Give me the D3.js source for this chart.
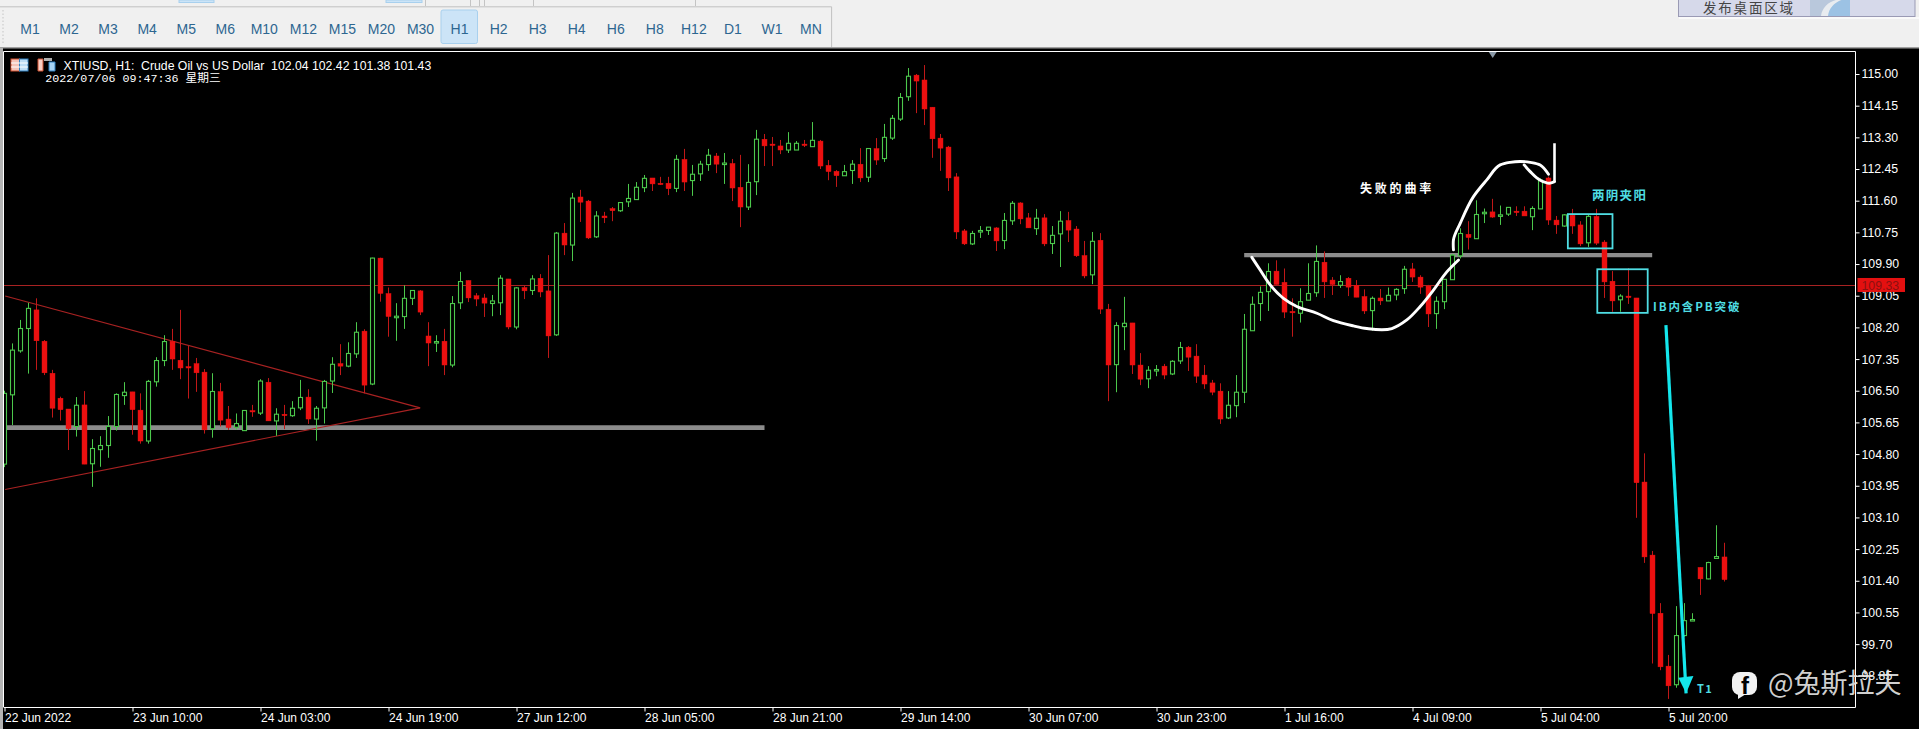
<!DOCTYPE html>
<html><head><meta charset="utf-8">
<script src="https://cdn.jsdelivr.net/npm/d3@7"></script>
<style>html,body{margin:0;padding:0;background:#000;overflow:hidden}svg{display:block}text{white-space:pre}</style>
</head><body>
<svg id="c" width="1919" height="729"></svg>
<script>
// ---- chart values -------------------------------------------------------
const opens=[104.53,106.39,107.57,108.17,108.67,107.83,106.97,106.30,106.01,105.54,106.12,104.54,104.92,105.03,105.54,106.37,106.47,105.98,105.15,106.74,107.31,107.83,107.32,107.15,107.23,107.00,105.48,106.48,105.74,105.52,105.43,105.97,105.90,106.73,105.69,105.87,105.83,106.04,106.33,105.74,106.04,106.76,107.23,107.16,107.49,108.10,106.68,110.06,109.11,108.46,108.49,108.98,
109.18,107.97,107.79,107.83,107.19,108.86,109.46,109.05,108.99,108.84,108.86,109.50,108.21,109.27,109.19,109.52,109.18,108.00,110.73,110.41,111.70,111.59,110.63,111.19,111.39,111.33,111.57,111.63,111.95,112.21,112.07,112.07,111.93,112.71,112.14,112.32,112.57,112.80,112.59,112.60,111.96,111.43,112.11,113.25,113.12,113.07,112.96,112.96,113.12,113.05,
113.20,112.55,112.39,112.27,112.41,112.58,112.23,113.00,112.73,113.28,113.79,114.39,114.97,114.84,114.11,113.28,113.04,112.24,110.79,110.44,110.77,110.80,110.87,110.53,111.06,111.54,111.14,110.85,111.14,110.45,110.71,111.07,110.84,110.13,109.61,110.54,108.69,107.20,108.22,108.32,107.19,106.82,107.05,107.16,106.95,107.30,107.67,107.43,106.92,106.71,
106.49,105.77,106.10,106.46,108.11,108.84,109.16,109.71,109.41,108.63,108.58,108.93,109.13,109.95,109.47,109.33,109.52,109.33,109.03,108.65,108.99,108.91,109.07,109.24,109.77,109.55,109.31,108.57,108.89,109.48,110.12,110.70,110.58,111.26,111.30,111.18,111.24,111.32,111.32,111.17,111.38,112.21,111.08,110.92,111.21,110.95,110.47,111.18,110.49,109.44,108.94,109.04,108.99,104.05,102.09,100.53,99.11,98.61,99.93,100.34,101.76,101.45,102.00,102.04];
const highs=[106.50,107.77,108.40,108.86,108.98,107.86,107.06,106.34,106.01,106.33,106.49,105.20,105.28,105.82,106.43,106.73,106.47,106.43,106.79,107.40,107.99,108.16,108.67,107.70,107.38,107.08,106.97,106.71,106.09,105.89,105.98,106.12,106.81,106.84,106.03,106.12,106.22,106.79,106.54,106.09,106.79,107.40,107.75,107.80,108.34,108.15,110.07,110.07,109.27,108.85,109.33,109.19,
109.20,108.34,107.99,108.16,109.04,109.69,109.46,109.12,109.10,109.07,109.60,109.50,109.28,109.31,109.60,109.63,110.14,110.76,111.00,111.81,111.89,111.62,111.32,111.30,111.43,111.55,112.05,112.10,112.29,112.21,112.24,112.24,112.83,112.99,112.56,112.67,112.99,112.88,112.88,112.72,112.83,112.58,113.50,113.39,113.31,113.23,113.44,113.20,113.23,113.71,
113.23,112.69,112.42,112.56,112.69,113.01,113.00,113.28,113.66,113.90,114.49,115.16,115.00,115.24,114.11,113.39,113.07,112.34,110.84,110.79,110.92,110.89,110.89,111.27,111.59,111.56,111.27,111.38,111.24,110.92,111.32,111.30,110.92,110.52,110.76,110.73,108.83,108.34,109.02,108.32,107.51,107.16,107.19,107.22,107.32,107.81,107.70,107.75,107.19,106.79,
106.70,106.49,106.92,108.56,109.03,109.30,109.92,110.00,109.78,108.98,109.25,109.92,110.40,110.24,109.55,109.60,109.55,109.47,109.22,109.03,109.23,109.27,109.25,109.85,109.93,109.60,109.34,109.03,109.49,110.17,110.86,111.05,111.61,111.39,111.65,111.47,111.42,111.45,111.45,111.45,112.20,112.25,111.19,111.24,111.38,111.05,111.22,111.38,110.54,109.71,109.09,109.79,108.99,104.82,102.20,100.80,99.41,100.72,100.80,100.53,101.76,101.91,102.89,102.42];
const lows=[104.45,105.58,107.52,106.96,107.06,106.92,105.78,105.70,104.91,105.27,104.53,103.92,104.46,104.70,105.43,106.12,105.32,105.08,105.08,106.61,107.16,107.06,106.81,106.29,106.47,105.35,105.24,105.54,105.45,105.45,105.43,105.80,105.85,105.69,105.29,105.47,105.80,105.98,105.61,105.16,105.62,106.44,106.92,107.13,107.38,106.43,106.65,108.89,107.95,107.84,108.16,108.80,
108.53,107.16,107.54,106.92,107.13,108.69,108.88,108.77,108.48,108.50,108.53,108.15,108.15,108.96,109.07,109.01,107.38,107.97,110.14,109.98,111.03,110.57,110.60,111.00,111.05,111.30,111.43,111.63,111.83,111.86,112.02,111.75,111.83,111.86,111.73,112.13,112.40,112.34,112.05,111.59,110.89,111.35,111.75,112.53,112.53,112.85,112.88,112.96,113.04,113.05,
112.45,112.15,111.97,112.27,112.05,112.10,112.10,112.56,112.64,113.23,113.74,114.28,113.95,113.63,112.75,112.40,111.86,110.57,110.41,110.41,110.60,110.68,110.25,110.30,110.95,110.97,110.87,110.68,110.38,110.17,109.82,110.49,110.09,109.52,109.36,108.56,106.22,106.46,107.59,106.95,106.65,106.57,106.89,106.81,106.92,107.22,107.03,106.71,106.55,106.38,
105.61,105.74,105.79,106.17,108.11,108.37,108.64,109.35,108.45,107.95,108.33,108.93,109.02,108.99,109.07,109.26,109.04,109.01,108.56,108.11,108.80,108.91,108.93,109.10,109.42,109.10,108.21,108.16,108.69,109.48,110.05,110.29,110.58,111.00,111.14,110.95,111.19,111.19,111.19,110.81,111.38,110.95,110.71,110.90,110.71,110.38,110.36,110.41,108.99,108.62,108.62,108.83,103.09,101.88,99.18,99.00,98.23,98.53,99.90,100.33,101.02,101.44,102.00,101.38];
const closes=[106.43,107.59,108.17,108.71,107.84,106.98,106.03,105.99,105.48,106.11,104.53,104.95,105.03,105.54,106.40,106.46,105.99,105.15,106.75,107.31,107.82,107.35,107.11,107.12,106.98,105.45,106.48,105.71,105.51,105.62,105.97,105.93,106.76,105.69,105.87,105.83,106.03,106.32,105.74,106.03,106.75,107.21,107.16,107.50,108.07,106.65,110.06,109.11,108.49,108.50,108.98,109.19,
108.61,107.78,107.82,107.19,108.84,109.43,108.99,108.96,108.85,108.91,109.52,108.21,109.26,109.18,109.50,109.15,107.97,110.73,110.41,111.67,111.56,110.60,111.19,111.14,111.33,111.55,111.66,111.96,112.20,112.05,112.04,111.92,112.71,112.10,112.31,112.58,112.82,112.58,112.61,111.94,111.43,112.09,113.25,113.07,113.08,112.96,113.14,113.14,113.08,113.22,
112.53,112.38,112.27,112.38,112.58,112.21,113.00,112.69,113.30,113.81,114.37,114.94,114.81,114.06,113.26,113.01,112.21,110.76,110.44,110.72,110.80,110.89,110.52,111.07,111.53,111.11,110.87,111.13,110.44,110.67,111.05,110.81,110.12,109.58,110.51,108.69,107.19,108.25,108.31,107.19,106.81,107.05,107.07,106.92,107.29,107.66,107.40,106.89,106.68,106.46,
105.74,106.11,106.46,108.15,108.82,109.14,109.70,109.35,108.61,108.59,108.89,109.11,109.97,109.42,109.35,109.43,109.28,109.01,108.64,108.98,108.91,109.06,109.22,109.76,109.55,109.28,108.56,108.90,109.49,110.14,110.72,110.61,111.23,111.29,111.16,111.22,111.42,111.30,111.19,111.39,112.15,111.08,110.95,111.22,110.92,110.44,111.18,110.46,109.42,108.91,109.04,109.00,104.03,102.04,100.52,99.09,98.58,99.93,100.33,100.36,101.45,101.89,102.05,101.43];
const priceTicks=["115.00","114.15","113.30","112.45","111.60","110.75","109.90","109.05","108.20","107.35","106.50","105.65","104.80","103.95","103.10","102.25","101.40","100.55","99.70","98.85"];
const timeLabels=["22 Jun 2022","23 Jun 10:00","24 Jun 03:00","24 Jun 19:00","27 Jun 12:00","28 Jun 05:00","28 Jun 21:00","29 Jun 14:00","30 Jun 07:00","30 Jun 23:00","1 Jul 16:00","4 Jul 09:00","5 Jul 04:00","5 Jul 20:00"];
const timeframes=["M1","M2","M3","M4","M5","M6","M10","M12","M15","M20","M30","H1","H2","H3","H4","H6","H8","H12","D1","W1","MN"];
const lastPrice=109.33;
// drawn objects, as [bar, price]
const trendUpper=[[0.08,109.04],[51.96,106.04]];
const trendLower=[[0.08,103.85],[51.96,106.04]];
const levelLow=[[0.2,105.51],[95,105.51]];
const levelHigh=[[154.96,110.14],[205.96,110.14]];
const curveCup=[[155.92,110.08],[156.96,109.74],[158.21,109.34],[159.87,108.98],[161.54,108.76],[164.05,108.58],[166.12,108.38],[168.62,108.24],[170.29,108.17],[173.42,108.17],[175.29,108.40],[176.96,108.76],[178.62,109.20],[180.29,109.69],[181.75,110.01]];
const curveCap=[[181.12,110.28],[181.12,110.55],[181.96,110.99],[183.62,111.71],[185.29,112.16],[186.96,112.56],[188.21,112.63],[190.71,112.63],[191.96,112.56],[193.0,112.31]];
const curveHook=[[189.96,112.56],[190.71,112.38],[191.96,112.15],[193.21,112.07],[193.75,112.11]];
const hookStem=[[193.75,112.11],[193.75,113.14]];
const boxes=[[195.42,111.24,201,110.32],[199.1,109.76,205.4,108.59]];
const arrowLine=[[207.68,108.26],[210.2,98.38]];

// ---- layout -------------------------------------------------------------
const svg=d3.select("#c");
const X=d3.scaleLinear().domain([0,215]).range([4.5,1724.5]);
const Y=d3.scaleLinear().domain([115,98.85]).range([74,675.8]);
const L=d3.line().x(d=>X(d[0])).y(d=>Y(d[1]));
const C=d3.line().x(d=>X(d[0])).y(d=>Y(d[1])).curve(d3.curveCatmullRom.alpha(1));
const plot={l:4,t:51,r:1855.5,b:707};
const sans='"Liberation Sans",Arial,"Noto Sans CJK SC",sans-serif';
const cjk='"Noto Sans CJK SC",sans-serif';
const cyan="#4fdde3",redLine="#a82222";

// window chrome
svg.append("rect").attr("width",1919).attr("height",729).attr("fill","#000");
svg.append("rect").attr("width",1919).attr("height",48).attr("fill","#f0f0f0");
svg.append("rect").attr("y",47).attr("width",1919).attr("height",1.5).attr("fill","#a0a0a0");
svg.append("rect").attr("y",48).attr("width",3).attr("height",681).attr("fill","#b4b4b4");
svg.append("path").attr("d","M0,6.8H831.6V47").attr("fill","none").attr("stroke","#c0c0c0");
svg.append("path").attr("d","M3,10V45").attr("fill","none").attr("stroke","#c4c4c4").attr("stroke-dasharray","1.5 2");
[[179,35],[386,36]].forEach(a=>svg.append("rect").attr("x",a[0]).attr("y",0).attr("width",a[1]).attr("height",2.5).attr("fill","#cce4f7").attr("stroke","#a8d0ee"));
[425.5,470.5,479.5,484.5,533.5,695.5].forEach(x=>svg.append("line").attr("x1",x).attr("x2",x).attr("y1",0).attr("y2",6).attr("stroke","#c4c4c4"));
svg.append("rect").attr("x",441).attr("y",10).attr("width",36.5).attr("height",33.5).attr("rx",2).attr("fill","#cce4f7").attr("stroke","#a8d0ee");
svg.selectAll("text.tf").data(timeframes).join("text").attr("class","tf")
  .attr("x",(d,i)=>30+39.05*i).attr("y",33.5).attr("text-anchor","middle")
  .attr("font-family",sans).attr("font-size",14).attr("fill","#2d6690").text(d=>d);
svg.append("rect").attr("x",1678.5).attr("y",-1).attr("width",236.5).attr("height",17.5).attr("fill","#d6d9ea").attr("stroke","#9a9ab4");
svg.append("rect").attr("x",1679).attr("y",17).attr("width",240).attr("height",2).attr("fill","#fafafa");
svg.append("text").attr("x",1703).attr("y",13).attr("font-family",cjk).attr("font-size",13.5).attr("letter-spacing",1.8).attr("fill","#444").text("发布桌面区域");
svg.append("rect").attr("x",1810).attr("y",0).attr("width",40).attr("height",16).attr("fill","#b9c8dc");
svg.append("path").attr("d","M1826,16C1826,6 1836,2 1842,0H1850V16Z").attr("fill","#9cc2e4");
svg.append("path").attr("d","M1821,16C1822,8 1828,2 1836,0H1841C1834,3 1829,8 1828,16Z").attr("fill","#e8ecf0");

// plot frame contents, clipped
svg.append("defs").append("clipPath").attr("id","pc").append("rect")
  .attr("x",plot.l).attr("y",plot.t).attr("width",plot.r-plot.l).attr("height",plot.b-plot.t);
const g=svg.append("g").attr("clip-path","url(#pc)");
g.append("path").attr("d",L(levelLow)).attr("stroke","#8c8c8c").attr("stroke-width",4.6).attr("fill","none");
g.append("path").attr("d",L(levelHigh)).attr("stroke","#8c8c8c").attr("stroke-width",4.2).attr("fill","none");
g.append("line").attr("x1",plot.l).attr("x2",plot.r).attr("y1",Math.round(Y(lastPrice))+.5).attr("y2",Math.round(Y(lastPrice))+.5).attr("stroke",redLine);
[trendUpper,trendLower].forEach(t=>g.append("path").attr("d",L(t)).attr("stroke",redLine).attr("stroke-width",1.1).attr("fill","none"));

const bars=d3.range(opens.length).map(i=>({i,o:opens[i],h:highs[i],l:lows[i],c:closes[i]}));
const green="#4cc84c",red="#ec1010",redWick="#c01818";
const cg=g.selectAll("g.bar").data(bars).join("g").attr("class","bar");
cg.append("line").attr("x1",d=>X(d.i)).attr("x2",d=>X(d.i)).attr("y1",d=>Y(d.h)).attr("y2",d=>Y(d.l))
  .attr("stroke",d=>d.c>=d.o?green:redWick);
cg.append("rect").attr("x",d=>X(d.i)-(d.c>=d.o?2:2.5)).attr("width",d=>d.c>=d.o?4:5)
  .attr("y",d=>Y(Math.max(d.o,d.c))).attr("height",d=>Math.max(Math.abs(Y(d.o)-Y(d.c)),1.5))
  .attr("fill",d=>d.c>=d.o?"#000":red).attr("stroke",d=>d.c>=d.o?green:red).attr("stroke-width",d=>d.c>=d.o?1.1:.4);

// hand-drawn annotations
[curveCup,curveCap,curveHook].forEach(c=>g.append("path").attr("d",C(c)).attr("stroke","#fff").attr("stroke-width",2.9).attr("fill","none").attr("stroke-linecap","round").attr("stroke-linejoin","round"));
g.append("path").attr("d",L(hookStem)).attr("stroke","#fff").attr("stroke-width",2.6).attr("fill","none");
g.selectAll("rect.box").data(boxes).join("rect").attr("class","box")
  .attr("x",d=>X(d[0])).attr("y",d=>Y(d[1])).attr("width",d=>X(d[2])-X(d[0])).attr("height",d=>Y(d[3])-Y(d[1]))
  .attr("fill","none").attr("stroke",cyan).attr("stroke-width",1.8);
g.append("path").attr("d",L(arrowLine)).attr("stroke","#14e6ec").attr("stroke-width",3.2).attr("fill","none");
{const t=arrowLine[1],tx=X(t[0]),ty=Y(t[1]);
 g.append("path").attr("d",`M${tx-7.7},${ty-15.6}L${tx+7.3},${ty-17.3}L${tx},${ty}Z`).attr("fill","#14e6ec");}
const note=(x,y,s,f,ls,t)=>g.append("text").attr("x",x).attr("y",y).attr("font-family",cjk).attr("font-weight",700).attr("font-size",s).attr("letter-spacing",ls).attr("fill",f).text(t);
note(1360,193,12,"#fff",2.8,"失败的曲率");
note(1592,200,12.5,cyan,1.3,"两阴夹阳");
note(1653,311,11.5,cyan,1.9,"IB内含PB突破");
note(1697,693,11,cyan,1.4,"T1");

// header
g.append("text").attr("x",63.5).attr("y",70).attr("font-family",sans).attr("font-size",12.25).attr("fill","#fff").text("XTIUSD, H1:  Crude Oil vs US Dollar  102.04 102.42 101.38 101.43");
g.append("text").attr("x",45.3).attr("y",81.5).attr("font-family",'"Liberation Mono","Noto Sans CJK SC",monospace').attr("font-size",11.7).attr("fill","#fff").text("2022/07/06 09:47:36 星期三");
// header icons
g.append("rect").attr("x",11).attr("y",59).attr("width",8.5).attr("height",12).attr("fill","#f4c4b8").attr("stroke","#d05030");
g.append("rect").attr("x",19.5).attr("y",59).attr("width",8.5).attr("height",12).attr("fill","#bcdcf4").attr("stroke","#3080c0");
[63,67].forEach(y=>g.append("line").attr("x1",11).attr("x2",28).attr("y1",y).attr("y2",y).attr("stroke","#fff"));
g.append("path").attr("d","M38,59H43V71H38Z").attr("fill","#f8cfc4").attr("stroke","#d05030");
g.append("path").attr("d","M49,62H55V71H49Z").attr("fill","#a8d4f4").attr("stroke","#3080c0");
g.append("rect").attr("x",44).attr("y",58).attr("width",8).attr("height",3).attr("fill","#b0b0b0");
g.append("path").attr("d","M1488.5,51.5H1497L1492.7,58Z").attr("fill","#8a98a6");

// frame and axes
svg.append("path").attr("d",`M${plot.l-.5},${plot.b}V${plot.t}.5H${plot.r}V${plot.b}.5H${plot.l-.5}`).attr("fill","none").attr("stroke","#fff");
const axisY=svg.append("g").attr("transform",`translate(${plot.r},0)`)
  .call(d3.axisRight(Y).tickValues(priceTicks.map(Number)).tickSize(4).tickPadding(2).tickFormat((d,i)=>priceTicks[i]));
axisY.select(".domain").remove();
axisY.selectAll("line").attr("stroke","#fff");
axisY.selectAll("text").attr("fill","#fff").attr("font-family",sans).attr("font-size",12.3);
const tickBars=timeLabels.map((d,i)=>16*i);
const axisX=svg.append("g").attr("transform",`translate(0,${plot.b+.5})`)
  .call(d3.axisBottom(X).tickValues(tickBars).tickSize(4).tickPadding(2).tickFormat((d,i)=>timeLabels[i]));
axisX.select(".domain").remove();
axisX.selectAll("line").attr("stroke","#fff");
axisX.selectAll("text").attr("fill","#fff").attr("font-family",sans).attr("font-size",12).attr("text-anchor","start");
// last-price tag
svg.append("rect").attr("x",1857.5).attr("y",Y(lastPrice)-7.3).attr("width",47.5).attr("height",14).attr("fill","#e41010");
svg.append("text").attr("x",1861.5).attr("y",Y(lastPrice)+4.4).attr("font-family",sans).attr("font-size",12.3).attr("fill","#8c1010").text(lastPrice.toFixed(2));

// watermark
const wm=svg.append("g");
wm.append("rect").attr("x",1732).attr("y",672).attr("width",25).attr("height",23).attr("rx",8).attr("fill","#f2f2f2");
wm.append("path").attr("d","M1738,692L1738,699L1746,694Z").attr("fill","#f2f2f2");
wm.append("text").attr("x",1745).attr("y",694).attr("text-anchor","middle").attr("font-family",sans).attr("font-weight",700).attr("font-size",24).attr("fill","#000").text("f");
wm.append("text").attr("x",1768).attr("y",693).attr("font-family",cjk).attr("font-size",27).attr("fill","#e6e6e6").attr("fill-opacity",.92).text("@兔斯拉夫");
</script>
</body></html>
